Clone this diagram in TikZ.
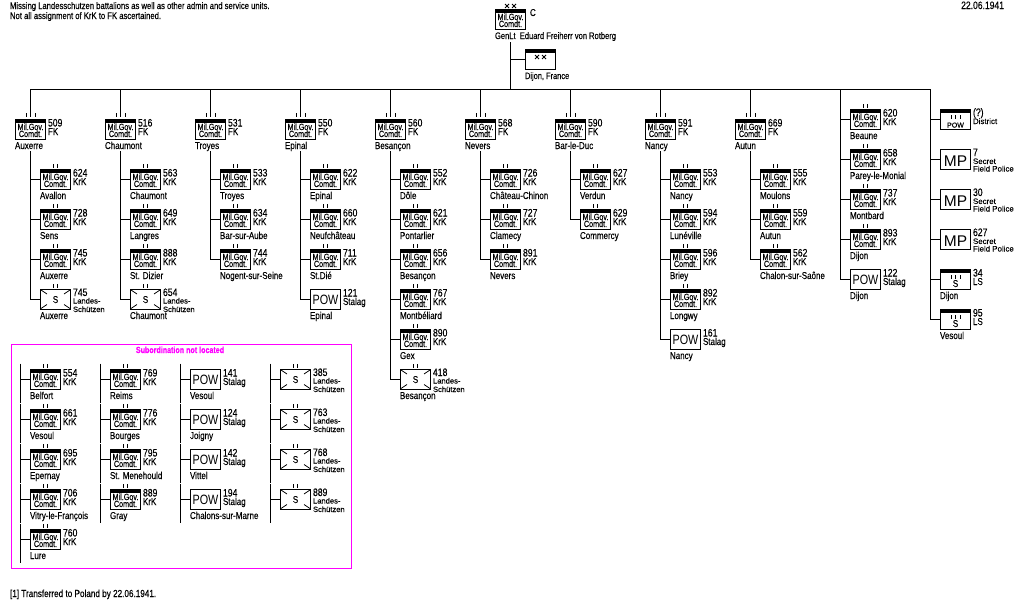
\documentclass[tikz,border=0pt]{standalone}
\usepackage{fontspec}
\setmainfont[FakeStretch=0.8,FakeBold=0.25]{Liberation Sans}
\newfontfamily\widefont[FakeBold=0.25]{Liberation Sans}
\newfontfamily\mpfont{Liberation Sans}
\newfontfamily\powfont[FakeStretch=0.8]{Liberation Sans}
\definecolor{mag}{RGB}{255,0,255}
\tikzset{
  x=1pt,y=-1pt,
  conn/.style={line width=1pt,line cap=rect},
  ubox/.style={draw=black,line width=1pt,fill=white,rectangle,minimum width=30pt,minimum height=19.6pt,inner sep=0pt,outer sep=0pt,anchor=north west},
  txt/.style={inner sep=0pt,outer sep=0pt,anchor=base west,text=black,font=\fontsize{10}{10}\selectfont},
  numtxt/.style={txt,font=\fontsize{10.8}{11}\selectfont},
  smalltxt/.style={txt,font=\widefont\fontsize{7.6}{8}\selectfont},
  boxtxt/.style={inner sep=0pt,outer sep=0pt,anchor=base,text=black,font=\fontsize{9}{9}\selectfont},
  tick/.style={line width=1pt},
}
\newcommand{\TwoT}[2]{\draw[tick] (#1+13.5,#2)--(#1+13.5,#2+4) (#1+17.5,#2)--(#1+17.5,#2+4);}
\newcommand{\ThreeT}[2]{\draw[tick] (#1+11.5,#2)--(#1+11.5,#2+4) (#1+15.5,#2)--(#1+15.5,#2+4) (#1+20.5,#2)--(#1+20.5,#2+4);}
\newcommand{\CrossT}[2]{\draw[line width=.8pt] (#1+10,#2)--(#1+14,#2+4) (#1+14,#2)--(#1+10,#2+4) (#1+17,#2)--(#1+21,#2+4) (#1+21,#2)--(#1+17,#2+4);}
\newcommand{\Bar}[2]{\fill[black] (#1,#2) rectangle (#1+31,#2+4);}
\newcommand{\Bx}[3]{\node[ubox] (#1) at (#2+.5,#3+.5) {};}
\newcommand{\MilBody}[3]{\Bx{#1}{#2}{#3}\Bar{#2}{#3}
  \node[boxtxt] (#1-a) at (#2+15.5,#3+11) {Mil.Gov.};
  \node[boxtxt] (#1-b) at (#2+15.5,#3+18) {Comdt.};}
\newcommand{\NumLab}[5]{\node[numtxt] (#1-n) at (#2+33,#3+7.5) {#4};
  \node[txt] (#1-t) at (#2+33,#3+16) {#5};}
\newcommand{\Place}[4]{\node[txt] (#1-p) at (#2,#3+30) {#4};}
\newcommand{\Mil}[7]{\MilBody{#1}{#2}{#3}\NumLab{#1}{#2}{#3}{#4}{#5}\Place{#1}{#2}{#3}{#6}
  \ifnum#7=2 \TwoT{#2}{#3-5}\else \ThreeT{#2}{#3-6}\fi}
\newcommand{\Pow}[5]{\Bx{#1}{#2}{#3}
  \node[boxtxt,font=\powfont\fontsize{13.5}{14}\selectfont] (#1-a) at (#2+15.5,#3+15) {POW};
  \NumLab{#1}{#2}{#3}{#4}{Stalag}\Place{#1}{#2}{#3}{#5}}
\newcommand{\Sch}[5]{\Bx{#1}{#2}{#3}
  \draw[line width=.8pt] (#2+1,#3+1)--(#2+7,#3+5) (#2+30,#3+1)--(#2+24,#3+5) (#2+1,#3+19.5)--(#2+7,#3+15.5) (#2+30,#3+19.5)--(#2+24,#3+15.5);
  \node[boxtxt,font=\fontsize{10}{10}\selectfont] (#1-a) at (#2+15.5,#3+14) {S};
  \TwoT{#2}{#3-5}
  \node[numtxt] (#1-n) at (#2+33,#3+7) {#4};
  \node[smalltxt] (#1-t) at (#2+33,#3+14.5) {Landes-};
  \node[smalltxt] (#1-u) at (#2+33,#3+23) {Schützen};
  \Place{#1}{#2}{#3}{#5}}
\newcommand{\MP}[4]{\Bx{#1}{#2}{#3}
  \node[boxtxt,font=\mpfont\fontsize{15.5}{16}\selectfont] (#1-a) at (#2+15.5,#3+17) {MP};
  \node[numtxt] (#1-n) at (#2+33,#3+7) {#4};
  \node[smalltxt,font=\widefont\fontsize{7.9}{8}\selectfont] (#1-t) at (#2+33,#3+15) {Secret};
  \node[smalltxt,font=\widefont\fontsize{7.9}{8}\selectfont] (#1-u) at (#2+33,#3+22.5) {Field Police};}
\newcommand{\Br}[2]{\draw[conn] (#1 |- #2.west) -- (#2.west);}
\newcommand{\Seg}[3]{\coordinate (#1) at (#2,#3+.5); \coordinate (#1-e) at (#2,#3+39.5); \draw[line width=1pt] (#1)--(#1-e);}
\begin{document}
\begin{tikzpicture}
\useasboundingbox[fill=white] (0,0) rectangle (1020,600);
% header texts
\node[txt,font=\fontsize{9.6}{10}\selectfont] (h1) at (10,9) {Missing Landesschutzen battalions as well as other admin and service units.};
\node[txt,font=\fontsize{9.6}{10}\selectfont] (h2) at (10,19) {Not all assignment of KrK to FK ascertained.};
\node[txt,anchor=base east,font=\fontsize{10.7}{11}\selectfont] (date) at (1004,9) {22.06.1941};
\node[txt,font=\fontsize{10.2}{11}\selectfont] (foot) at (10,597) {[1] Transferred to Poland by 22.06.1941.};
% commander
\MilBody{cmd}{495}{9}\CrossT{495}{4}
\node[txt] (cmd-c) at (530,16) {C};
\node[txt,font=\fontsize{9.45}{10}\selectfont] (cmd-p) at (495,39) {GenLt\ \ Eduard Freiherr von Rotberg};
\coordinate (top) at (510.5,42);
\coordinate (hq) at (510.5,89.5);
\draw[conn] (top)--(hq);
\Bx{dij}{525}{49}\Bar{525}{49}\CrossT{525}{55}
\node[txt,font=\fontsize{9.3}{10}\selectfont] (dij-p) at (525,79) {Dijon, France};
\Br{top}{dij}
% horizontal
\coordinate (hl) at (30.5,89.5);
\coordinate (hr) at (930.5,89.5);
\draw[conn] (hl)--(hr);
% FK heads
\foreach \nm/\xx/\num/\pl in {a/15/509/Auxerre,b/105/516/Chaumont,c/195/531/Troyes,d/285/550/Epinal,e/375/560/Besançon,f/465/568/Nevers,g/555/590/Bar-le-Duc,h/645/591/Nancy,i/735/669/Autun}{
  \Mil{\nm}{\xx}{119}{\num}{FK}{\pl}{3}
  \coordinate (\nm-up) at (\xx+15.5,89.5);
  \coordinate (\nm-dn) at (\xx+15.5,112);
  \draw[conn] (\nm-up)--(\nm-dn);
}
\coordinate (ta) at (30.5,151);
\coordinate (tb) at (120.5,151);
\coordinate (tc) at (210.5,151);
\coordinate (td) at (300.5,151);
\coordinate (te) at (390.5,151);
\coordinate (tf) at (480.5,151);
\coordinate (tg) at (570.5,151);
\coordinate (th) at (660.5,151);
\coordinate (ti) at (750.5,151);
% col a
\Mil{a1}{40}{169}{624}{KrK}{Avallon}{2}\Br{ta}{a1}
\Mil{a2}{40}{209}{728}{KrK}{Sens}{2}\Br{ta}{a2}
\Mil{a3}{40}{249}{745}{KrK}{Auxerre}{2}\Br{ta}{a3}
\Sch{a4}{40}{289}{745}{Auxerre}\Br{ta}{a4}
\draw[conn] (ta)--(ta |- a4.west);
% col b
\Mil{b1}{130}{169}{563}{KrK}{Chaumont}{2}\Br{tb}{b1}
\Mil{b2}{130}{209}{649}{KrK}{Langres}{2}\Br{tb}{b2}
\Mil{b3}{130}{249}{888}{KrK}{St. Dizier}{2}\Br{tb}{b3}
\Sch{b4}{130}{289}{654}{Chaumont}\Br{tb}{b4}
\draw[conn] (tb)--(tb |- b4.west);
% col c
\Mil{c1}{220}{169}{533}{KrK}{Troyes}{2}\Br{tc}{c1}
\Mil{c2}{220}{209}{634}{KrK}{Bar-sur-Aube}{2}\Br{tc}{c2}
\Mil{c3}{220}{249}{744}{KrK}{Nogent-sur-Seine}{2}\Br{tc}{c3}
\draw[conn] (tc)--(tc |- c3.west);
% col d
\Mil{d1}{310}{169}{622}{KrK}{Epinal}{2}\Br{td}{d1}
\Mil{d2}{310}{209}{660}{KrK}{Neufchâteau}{2}\Br{td}{d2}
\Mil{d3}{310}{249}{711}{KrK}{St.Dié}{2}\Br{td}{d3}
\Pow{d4}{310}{289}{121}{Epinal}\Br{td}{d4}
\draw[conn] (td)--(td |- d4.west);
% col e
\Mil{e1}{400}{169}{552}{KrK}{Dôle}{2}\Br{te}{e1}
\Mil{e2}{400}{209}{621}{KrK}{Pontarlier}{2}\Br{te}{e2}
\Mil{e3}{400}{249}{656}{KrK}{Besançon}{2}\Br{te}{e3}
\Mil{e4}{400}{289}{767}{KrK}{Montbéliard}{2}\Br{te}{e4}
\Mil{e5}{400}{329}{890}{KrK}{Gex}{2}\Br{te}{e5}
\Sch{e6}{400}{369}{418}{Besançon}\Br{te}{e6}
\draw[conn] (te)--(te |- e6.west);
% col f
\Mil{f1}{490}{169}{726}{KrK}{Château-Chinon}{2}\Br{tf}{f1}
\Mil{f2}{490}{209}{727}{KrK}{Clamecy}{2}\Br{tf}{f2}
\Mil{f3}{490}{249}{891}{KrK}{Nevers}{2}\Br{tf}{f3}
\draw[conn] (tf)--(tf |- f3.west);
% col g
\Mil{g1}{580}{169}{627}{KrK}{Verdun}{2}\Br{tg}{g1}
\Mil{g2}{580}{209}{629}{KrK}{Commercy}{2}\Br{tg}{g2}
\draw[conn] (tg)--(tg |- g2.west);
% col h
\Mil{h1}{670}{169}{553}{KrK}{Nancy}{2}\Br{th}{h1}
\Mil{h2}{670}{209}{594}{KrK}{Lunéville}{2}\Br{th}{h2}
\Mil{h3}{670}{249}{596}{KrK}{Briey}{2}\Br{th}{h3}
\Mil{h4}{670}{289}{892}{KrK}{Longwy}{2}\Br{th}{h4}
\Pow{h5}{670}{329}{161}{Nancy}\Br{th}{h5}
\draw[conn] (th)--(th |- h5.west);
% col i
\Mil{i1}{760}{169}{555}{KrK}{Moulons}{2}\Br{ti}{i1}
\Mil{i2}{760}{209}{559}{KrK}{Autun}{2}\Br{ti}{i2}
\Mil{i3}{760}{249}{562}{KrK}{Chalon-sur-Saône}{2}\Br{ti}{i3}
\draw[conn] (ti)--(ti |- i3.west);
% col j
\coordinate (tj) at (840.5,89.5);
\Mil{j1}{850}{109}{620}{KrK}{Beaune}{2}\Br{tj}{j1}
\Mil{j2}{850}{149}{658}{KrK}{Parey-le-Monial}{2}\Br{tj}{j2}
\Mil{j3}{850}{189}{737}{KrK}{Montbard}{2}\Br{tj}{j3}
\Mil{j4}{850}{229}{893}{KrK}{Dijon}{2}\Br{tj}{j4}
\Pow{j5}{850}{269}{122}{Dijon}\Br{tj}{j5}
\draw[conn] (tj)--(tj |- j5.west);
% col k
\coordinate (tk) at (930.5,89.5);
\Bx{k1}{940}{109}\Bar{940}{109}\ThreeT{940}{115}
\node[boxtxt,font=\widefont\fontsize{7}{7}\selectfont] (k1-a) at (955.5,127.5) {POW};
\node[numtxt] (k1-n) at (973,116) {(?)};
\node[smalltxt,font=\widefont\fontsize{7.9}{8}\selectfont] (k1-t) at (973,124) {District};
\Br{tk}{k1}
\MP{k2}{940}{149}{7}\Br{tk}{k2}
\MP{k3}{940}{189}{30}\Br{tk}{k3}
\MP{k4}{940}{229}{627}\Br{tk}{k4}
\Bx{k5}{940}{269}\Bar{940}{269}\ThreeT{940}{275}
\node[boxtxt,font=\fontsize{10}{10}\selectfont] (k5-a) at (955.5,287) {S};
\NumLab{k5}{940}{269}{34}{LS}\Place{k5}{940}{269}{Dijon}\Br{tk}{k5}
\Bx{k6}{940}{309}\Bar{940}{309}\ThreeT{940}{315}
\node[boxtxt,font=\fontsize{10}{10}\selectfont] (k6-a) at (955.5,327) {S};
\NumLab{k6}{940}{309}{95}{LS}\Place{k6}{940}{309}{Vesoul}\Br{tk}{k6}
\draw[conn] (tk)--(tk |- k6.west);
% subordination box
\node[draw=mag,line width=1pt,rectangle,minimum width=340pt,minimum height=224pt,inner sep=0pt,anchor=north west] (sub) at (10.5,343.5) {};
\node[txt,anchor=base,text=mag,font=\fontsize{8.9}{10}\bfseries\selectfont] (subt) at (180,353) {Subordination not located};
% col 1
\Seg{p1}{20.5}{363}\Mil{s11}{30}{369}{554}{KrK}{Belfort}{2}\Br{p1}{s11}
\Seg{p2}{20.5}{403}\Mil{s12}{30}{409}{661}{KrK}{Vesoul}{2}\Br{p2}{s12}
\Seg{p3}{20.5}{443}\Mil{s13}{30}{449}{695}{KrK}{Epernay}{2}\Br{p3}{s13}
\Seg{p4}{20.5}{483}\Mil{s14}{30}{489}{706}{KrK}{Vitry-le-François}{2}\Br{p4}{s14}
\Seg{p5}{20.5}{523}\Mil{s15}{30}{529}{760}{KrK}{Lure}{2}\Br{p5}{s15}
% col 2
\Seg{q1}{100.5}{363}\Mil{s21}{110}{369}{769}{KrK}{Reims}{2}\Br{q1}{s21}
\Seg{q2}{100.5}{403}\Mil{s22}{110}{409}{776}{KrK}{Bourges}{2}\Br{q2}{s22}
\Seg{q3}{100.5}{443}\Mil{s23}{110}{449}{795}{KrK}{St. Menehould}{2}\Br{q3}{s23}
\Seg{q4}{100.5}{483}\Mil{s24}{110}{489}{889}{KrK}{Gray}{2}\Br{q4}{s24}
% col 3
\Seg{r1}{180.5}{363}\Pow{s31}{190}{369}{141}{Vesoul}\Br{r1}{s31}
\Seg{r2}{180.5}{403}\Pow{s32}{190}{409}{124}{Joigny}\Br{r2}{s32}
\Seg{r3}{180.5}{443}\Pow{s33}{190}{449}{142}{Vittel}\Br{r3}{s33}
\Seg{r4}{180.5}{483}\Pow{s34}{190}{489}{194}{Chalons-sur-Marne}\Br{r4}{s34}
% col 4
\Seg{u1}{270.5}{363}\Sch{s41}{280}{369}{385}{}\Br{u1}{s41}
\Seg{u2}{270.5}{403}\Sch{s42}{280}{409}{763}{}\Br{u2}{s42}
\Seg{u3}{270.5}{443}\Sch{s43}{280}{449}{768}{}\Br{u3}{s43}
\Seg{u4}{270.5}{483}\Sch{s44}{280}{489}{889}{}\Br{u4}{s44}
\end{tikzpicture}
\end{document}
